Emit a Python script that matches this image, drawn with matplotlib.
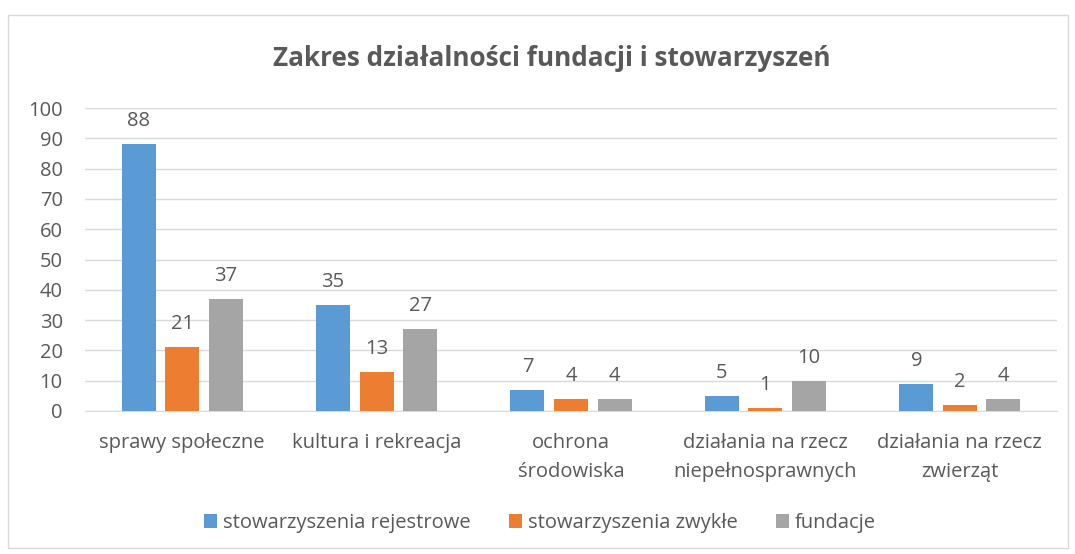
import matplotlib
matplotlib.use("Agg")
import matplotlib.pyplot as plt
import numpy as np
from matplotlib.patches import Rectangle

categories = ["sprawy społeczne", "kultura i rekreacja", "ochrona\nśrodowiska",
              "działania na rzecz\nniepełnosprawnych", "działania na rzecz\nzwierząt"]
series_names = ["stowarzyszenia rejestrowe", "stowarzyszenia zwykłe", "fundacje"]
rejestrowe = [88, 35, 7, 5, 9]
zwykle = [21, 13, 4, 1, 2]
fundacje = [37, 27, 4, 10, 4]
colors = ["#5b9bd5", "#ed7d31", "#a5a5a5"]
yticks = [0, 10, 20, 30, 40, 50, 60, 70, 80, 90, 100]

plt.rcParams['font.family'] = ['Open Sans', 'DejaVu Sans']
txt = "#595959"

fig = plt.figure(figsize=(10.75, 5.54), dpi=100)
fig.patches.append(Rectangle((8/1075, 1-548/554), (1068-8)/1075, (548-15)/554,
                             transform=fig.transFigure, fill=False,
                             edgecolor="#d9d9d9", linewidth=1))
ax = fig.add_axes([85/1075, 1-411/554, (1057-85)/1075, (411-108)/554])

x = np.arange(len(categories))
w = 0.175
off = 0.224
for i, (vals, name) in enumerate(zip([rejestrowe, zwykle, fundacje], series_names)):
    pos = x + (i - 1) * off
    bars = ax.bar(pos, vals, width=w, color=colors[i], label=name, zorder=3)
    for b, v in zip(bars, vals):
        ax.text(b.get_x() + b.get_width() / 2, v + 4.3, str(v), ha="center", va="bottom",
                fontsize=14.5, color=txt)

ax.set_xlim(-0.5, len(categories) - 0.5)
ax.set_ylim(0, 100)
ax.set_yticks(yticks)
ax.set_yticklabels([str(t) for t in yticks], fontsize=14.5, color=txt)
ax.set_xticks(x)
ax.set_xticklabels(categories, fontsize=14.5, color=txt, linespacing=1.6)
ax.tick_params(axis="both", length=0)
ax.tick_params(axis="x", pad=16)
ax.tick_params(axis="y", pad=16)
ax.grid(axis="y", color="#d9d9d9", linewidth=1, zorder=0)
for s in ["top", "right", "left"]:
    ax.spines[s].set_visible(False)
ax.spines["bottom"].set_color("#d9d9d9")

fig.text(552/1075, 1-58/554, "Zakres działalności fundacji i stowarzyszeń",
         ha="center", va="center", fontsize=18.8, fontweight="bold", color=txt)

leg = fig.legend(loc="center", bbox_to_anchor=(540/1075, 1-523/554), ncol=3,
                 frameon=False, fontsize=14.5, handlelength=0.65, handleheight=0.65,
                 handletextpad=0.3, columnspacing=1.9)
for t in leg.get_texts():
    t.set_color(txt)

fig.savefig("out.png", dpi=100)
